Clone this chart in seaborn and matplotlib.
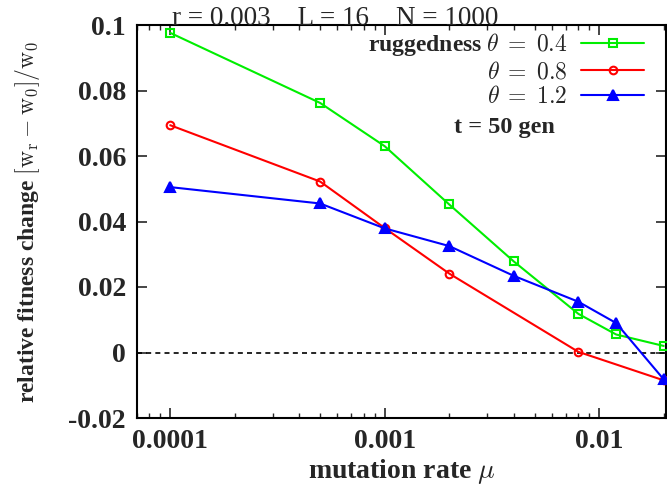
import numpy as np
import pandas as pd
import matplotlib
matplotlib.use("Agg")
import matplotlib.pyplot as plt
import seaborn as sns
from matplotlib.ticker import FixedLocator, FixedFormatter, LogLocator, NullFormatter

# ---- data ----
mu_green = [0.0001, 0.0005, 0.001, 0.002, 0.004, 0.008, 0.012, 0.02]
fit_green = [0.0976, 0.0762, 0.0630, 0.0452, 0.0278, 0.0118, 0.0055, 0.0020]

mu_red = [0.0001, 0.0005, 0.001, 0.002, 0.008, 0.02]
fit_red = [0.0694, 0.0522, 0.0380, 0.0241, 0.0002, -0.0085]

mu_blue = [0.0001, 0.0005, 0.001, 0.002, 0.004, 0.008, 0.012, 0.02]
fit_blue = [0.0505, 0.0455, 0.0379, 0.0325, 0.0234, 0.0155, 0.0090, -0.0082]

labels = [r"ruggedness $\theta\;=\;0.4$", r"$\theta\;=\;0.8$", r"$\theta\;=\;1.2$"]
xtick_vals = [0.0001, 0.001, 0.01]
xtick_labels = ["0.0001", "0.001", "0.01"]
ytick_vals = [-0.02, 0.0, 0.02, 0.04, 0.06, 0.08, 0.1]
ytick_labels = ["-0.02", "0", "0.02", "0.04", "0.06", "0.08", "0.1"]

sns.set_style("ticks")
plt.rcParams["font.family"] = ["Liberation Serif", "DejaVu Serif"]
plt.rcParams["mathtext.fontset"] = "cm"

fig = plt.figure(figsize=(6.67, 4.93), dpi=100)
ax = fig.add_axes([137/667, (493-418)/493, (666-137)/667, (418-25)/493])

series = [
    (mu_green, fit_green, "#00ee00", "s", "none", 5.5, labels[0]),
    (mu_red, fit_red, "#ff0000", "o", "none", 5.5, labels[1]),
    (mu_blue, fit_blue, "#0000ff", "^", "#0000ff", 7, labels[2]),
]
ax.axhline(0, color="black", lw=1.2, ls=(0, (3, 2.5)), zorder=1)
for xs, ys, col, mk, mfc, ms, lab in series:
    df = pd.DataFrame({"mu": xs, "fit": ys})
    sns.lineplot(data=df, x="mu", y="fit", ax=ax, color=col, marker=mk,
                 markerfacecolor=mfc, markeredgecolor=col, markersize=ms,
                 markeredgewidth=1.5, lw=1.5, label=lab, clip_on=False, zorder=3)

ax.set_xscale("log")
ax.set_xlim(7.0e-5, 0.0205)
ax.set_ylim(-0.02, 0.1)
ax.xaxis.set_major_locator(FixedLocator(xtick_vals))
ax.xaxis.set_major_formatter(FixedFormatter(xtick_labels))
ax.xaxis.set_minor_locator(LogLocator(base=10, subs=np.arange(2, 10)))
ax.xaxis.set_minor_formatter(NullFormatter())
ax.yaxis.set_major_locator(FixedLocator(ytick_vals))
ax.yaxis.set_major_formatter(FixedFormatter(ytick_labels))

ax.tick_params(axis="both", which="major", direction="in", length=7, width=1.2,
               top=True, right=True, labelsize=20, pad=8)
ax.tick_params(axis="x", which="minor", direction="in", length=3.5, width=1.0, top=True)
for lab in ax.get_xticklabels() + ax.get_yticklabels():
    lab.set_fontweight("bold")
for s in ax.spines.values():
    s.set_linewidth(1.5)
    s.set_color("black")

ax.set_xlabel(r"mutation rate $\mu$", fontsize=20, fontweight="bold", labelpad=2)
ax.set_ylabel(r"relative fitness change $[\mathrm{w_r} - \mathrm{w_0}]/\mathrm{w_0}$",
              fontsize=17, fontweight="bold", labelpad=19)

leg = ax.legend(loc="upper right", frameon=False, markerfirst=False, fontsize=17,
                handlelength=2.65, handletextpad=0.6, labelspacing=0.12,
                borderaxespad=0.2, bbox_to_anchor=(0.985, 1.02))
for t in leg.get_texts():
    t.set_fontweight("bold")

fig.text(335/667, 1 - 25/493, r"r = 0.003    L = 16    N = 1000", ha="center",
         va="baseline", fontsize=19.5)
fig.text(504/667, 1 - 133/493, "t = 50 gen", ha="center", va="baseline",
         fontsize=17.5, fontweight="bold")

fig.savefig("out.png", dpi=100)
